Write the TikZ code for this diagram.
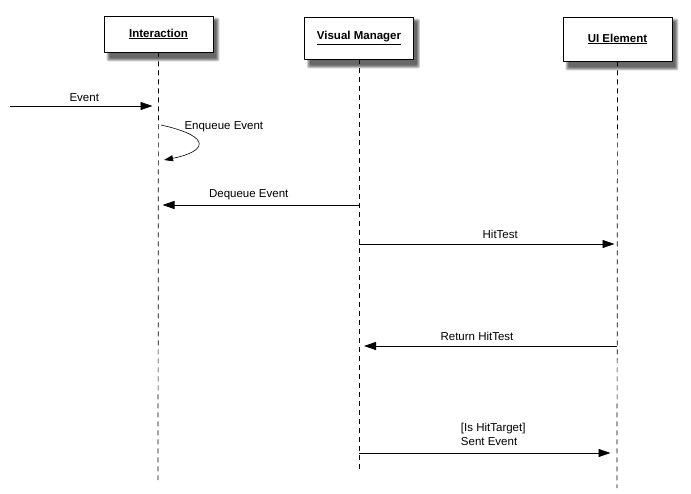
\documentclass[tikz,border=0pt]{standalone}
\usepackage{fontspec}
\setmainfont{Liberation Sans}
\usetikzlibrary{arrows.meta,calc,backgrounds}
\begin{document}
\begin{tikzpicture}[x=1pt, y=-1pt, font=\fontsize{11.5}{14}\selectfont, line join=round, >={Triangle[length=12pt,width=8pt]}]
	\tikzset{
		obj/.style={draw, fill=white, line width=0.9pt, minimum width=109pt, align=center},
		blur/.style={fill=black, opacity=.2},
		life/.style={dash pattern=on 5pt off 4pt, line width=0.7pt},
		msg/.style={->, line width=0.8pt},
	}
	\useasboundingbox (0,0) rectangle (691,494);
	\node[obj, minimum height=36pt] (int) at (158.5,34) {\underline{\textbf{Interaction}}};
	\node[obj, minimum height=42pt] (vm) at (359,38) {\underline{\textbf{Visual Manager}}};
	\node[obj, minimum height=44pt] (ui) at (617.5,39) {\underline{\textbf{UI Element}}};
	\begin{scope}[on background layer]
		\foreach \n in {int,vm,ui}
			\foreach \d in {0,1,2,3}
				\fill[blur, rounded corners=2pt] ($(\n.north west)+(3+\d,2+\d)$) rectangle ($(\n.south east)+(6-\d,9-\d)$);
	\end{scope}
	\coordinate (int-end) at (158,480);
	\coordinate (vm-end) at (359,473);
	\coordinate (ui-end) at (617,488);
	\draw[life] (int) -- (int-end);
	\draw[life] (vm) -- (vm-end);
	\draw[life] (ui) -- (ui-end);
	% messages
	\coordinate (src) at (10,106);
	\draw[msg, shorten >=6pt] (src) -- node[above=1pt]{Event} (src -| int);
	\coordinate (enq-a) at (161,125);
	\coordinate (enq-b) at (164,160);
	\draw[->, >={Triangle[length=9pt,width=6pt]}, line width=0.6pt] (enq-a) .. controls (215,137) and (205,152) .. (enq-b);
	\node[anchor=west] (enq) at (181,127) {Enqueue Event};
	\coordinate (deq) at (359,205);
	\draw[msg, shorten >=4pt] (deq) -- node[above=1pt, xshift=-10pt]{Dequeue Event} (deq -| int);
	\coordinate (hit) at (359,244);
	\draw[msg, shorten >=3pt] (hit) -- node[above=2pt, xshift=12pt]{HitTest} (hit -| ui);
	\coordinate (ret) at (617,346);
	\draw[msg, shorten >=5pt] (ret) -- node[above=2pt, xshift=-11pt]{Return HitTest} (ret -| vm);
	\coordinate (snd) at (359,453);
	\draw[msg, shorten >=7pt] (snd) -- node[above=4pt, xshift=5pt, align=left]{[Is HitTarget]\\Sent Event} (snd -| ui);
\end{tikzpicture}
\end{document}
